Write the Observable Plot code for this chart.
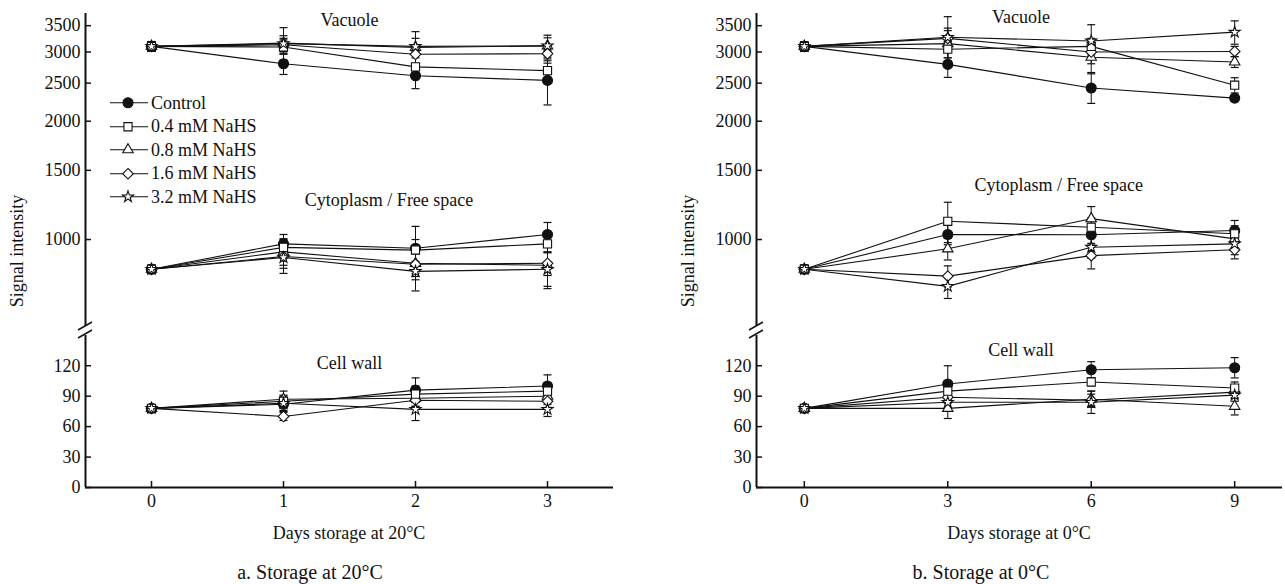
<!DOCTYPE html>
<html><head><meta charset="utf-8">
<script src="https://cdn.jsdelivr.net/npm/d3@7"></script>
<script src="https://cdn.jsdelivr.net/npm/@observablehq/plot@0.6"></script>
<style>
body{margin:0;background:#fff;}
#root{position:relative;width:1285px;height:584px;font-family:"Liberation Serif","Times New Roman",serif;color:#111;overflow:hidden;background:#fff;}
.abs{position:absolute;white-space:nowrap;line-height:1;}
svg text{font-family:"Liberation Serif","Times New Roman",serif;}
</style></head><body><div id="root"></div>
<script>
// ---------- data ----------
const seriesNames = ["Control", "0.4 mM NaHS", "0.8 mM NaHS", "1.6 mM NaHS", "3.2 mM NaHS"];
const symbolNames = ["circle", "square", "triangle2", "diamond2", "star"];
const daysA = [0, 1, 2, 3];
const daysB = [0, 3, 6, 9];
const yTicksUpper = [1000, 1500, 2000, 2500, 3000, 3500];
const yTicksLower = [0, 30, 60, 90, 120];

// Panel a (20 °C)
const vacuoleA = [[3100, 2800, 2610, 2540], [3100, 3090, 2750, 2690], [3100, 3160, 3080, 3110], [3100, 3130, 2960, 2970], [3100, 3150, 3100, 3110]];
const vacuoleAErr = [[90, 170, 190, 340], [80, 130, 150, 120], [80, 300, 300, 200], [80, 120, 150, 120], [80, 150, 150, 150]];
const cytoA = [[840, 975, 950, 1030], [840, 955, 940, 975], [840, 930, 870, 860], [840, 905, 865, 870], [840, 900, 830, 840]];
const cytoAErr = [[20, 55, 130, 75], [20, 50, 60, 50], [20, 70, 80, 100], [20, 60, 60, 60], [20, 80, 90, 90]];
const wallA = [[78, 82, 96, 100], [78, 85, 92, 95], [78, 87, 88, 90], [78, 70, 86, 85], [78, 83, 77, 77]];
const wallAErr = [[3, 6, 12, 11], [3, 5, 8, 8], [3, 8, 8, 8], [3, 4, 6, 6], [3, 8, 11, 7]];

// Panel b (0 °C)
const vacuoleB = [[3100, 2790, 2430, 2290], [3100, 3050, 3100, 2470], [3100, 3150, 2910, 2830], [3100, 3250, 3000, 3010], [3100, 3270, 3200, 3370]];
const vacuoleBErr = [[80, 205, 210, 40], [80, 150, 150, 110], [80, 250, 250, 90], [80, 200, 200, 90], [80, 420, 320, 230]];
const cytoB = [[840, 1030, 1028, 1054], [840, 1113, 1075, 1034], [840, 947, 1130, 1004], [840, 807, 910, 942], [840, 760, 956, 975]];
const cytoBErr = [[20, 60, 60, 64], [20, 131, 60, 50], [20, 60, 83, 50], [20, 50, 68, 49], [20, 52, 60, 60]];
const wallB = [[78, 102, 116, 118], [78, 95, 104, 98], [78, 78, 87, 80], [78, 89, 86, 94], [78, 84, 84, 91]];
const wallBErr = [[3, 18, 8, 10], [3, 8, 4, 6], [3, 10, 8, 8.5], [3, 6, 6, 6], [3, 8, 11, 6]];

const annotUpperA = [{text: "Vacuole", day: 1.5, value: 3610}, {text: "Cytoplasm / Free space", day: 1.8, value: 1257}];
const annotLowerA = [{text: "Cell wall", day: 1.5, value: 122}];
const annotUpperB = [{text: "Vacuole", day: 4.53, value: 3680}, {text: "Cytoplasm / Free space", day: 5.32, value: 1372}];
const annotLowerB = [{text: "Cell wall", day: 4.53, value: 135}];

// ---------- helpers ----------
const FONT = "'Liberation Serif', 'Times New Roman', serif";
const INK = "#111";
const root = document.getElementById("root");
const symbolRadius = {circle: 5, square: 4.6, triangle2: 5, diamond2: 4.8, star: 3.5};

function rowsFor(days, values, errs, part) {
  const out = [];
  values.forEach((arr, si) => arr.forEach((v, i) =>
    out.push({series: seriesNames[si], part, day: days[i], value: v, err: errs[si][i], r: symbolRadius[symbolNames[si]]})));
  return out;
}

const capSymbol = {
  draw(ctx, size) {
    const w = Math.sqrt(size / Math.PI);
    ctx.moveTo(-w, 0); ctx.lineTo(w, 0);
  }
};

function dataMarks(rows) {
  return [
    Plot.line(rows, {x: "day", y: "value", z: d => d.series + "|" + d.part, stroke: INK, strokeWidth: 1.1}),
    Plot.ruleX(rows, {x: "day", y1: d => d.value - d.err, y2: d => d.value + d.err, stroke: INK, strokeWidth: 1}),
    Plot.dot(rows, {x: "day", y: d => d.value + d.err, symbol: capSymbol, r: 4, stroke: INK, fill: "none", strokeWidth: 1.2}),
    Plot.dot(rows, {x: "day", y: d => d.value - d.err, symbol: capSymbol, r: 4, stroke: INK, fill: "none", strokeWidth: 1.2}),
    Plot.dot(rows, {x: "day", y: "value", symbol: "series", r: "r", stroke: INK, strokeWidth: 1.1,
      fill: d => d.series === seriesNames[0] ? INK : "white"})
  ];
}

function place(el, left, top) {
  el.style.position = "absolute";
  el.style.left = left + "px";
  el.style.top = top + "px";
  root.appendChild(el);
}

const commonStyle = {fontFamily: FONT, fontSize: "18px", background: "transparent", overflow: "visible", color: INK};

function panel(cfg) {
  const plotW = cfg.width - cfg.marginLeft - cfg.marginRight;
  // upper (log) part
  const upperRows = rowsFor(cfg.days, cfg.vac, cfg.vacErr, "vac").concat(rowsFor(cfg.days, cfg.cyto, cfg.cytoErr, "cyto"));
  const upper = Plot.plot({
    width: cfg.width, height: 336,
    marginTop: 13, marginBottom: 10, marginLeft: cfg.marginLeft, marginRight: cfg.marginRight,
    style: commonStyle,
    x: {domain: cfg.xDomain, axis: null},
    y: {type: "log", domain: [600.8, 3759], axis: null},
    r: {type: "identity"},
    symbol: {domain: seriesNames, range: symbolNames},
    color: {type: "identity"},
    marks: [
      Plot.ruleX([cfg.xDomain[0]], {stroke: INK, strokeWidth: 2}),
      Plot.tickY(yTicksUpper, {y: d => d, insetRight: plotW - 6, stroke: INK, strokeWidth: 1.5}),
      Plot.axisY({ticks: yTicksUpper, tickFormat: d => String(d), tickSize: 0, tickPadding: 5, fontSize: 18, fill: INK, label: null}),
      ...dataMarks(upperRows),
      Plot.text(cfg.annotUpper, {x: "day", y: "value", text: "text", fontSize: 18, fill: INK})
    ]
  });
  place(upper, cfg.left, 0);

  // lower (linear) part
  const lowerRows = rowsFor(cfg.days, cfg.wall, cfg.wallErr, "wall");
  const breakMark = (index, scales, values, dims) => {
    const g = d3.create("svg:g").attr("stroke", INK).attr("stroke-width", 1.6);
    const x0 = dims.marginLeft, y0 = dims.marginTop;
    for (const c of [y0 - 1, y0 - 9]) {
      g.append("path").attr("d", `M${x0 - 7},${c + 4}L${x0 + 7},${c - 4}`);
    }
    return g.node();
  };
  const lowerH = 264, lowerTop = 320;
  const lower = Plot.plot({
    width: cfg.width, height: lowerH,
    marginTop: 15, marginBottom: 97, marginLeft: cfg.marginLeft, marginRight: cfg.marginRight,
    style: commonStyle,
    x: {domain: cfg.xDomain, axis: null},
    y: {domain: [0, 149.8], axis: null},
    r: {type: "identity"},
    symbol: {domain: seriesNames, range: symbolNames},
    color: {type: "identity"},
    marks: [
      Plot.ruleX([cfg.xDomain[0]], {stroke: INK, strokeWidth: 2}),
      Plot.ruleY([0], {stroke: INK, strokeWidth: 2}),
      Plot.tickY(yTicksLower, {y: d => d, insetRight: plotW - 6, stroke: INK, strokeWidth: 1.5}),
      Plot.tickX(cfg.days, {x: d => d, insetTop: (lowerH - 15 - 97) - 6, stroke: INK, strokeWidth: 1.5}),
      Plot.axisY({ticks: yTicksLower, tickFormat: d => String(d), tickSize: 0, tickPadding: 5, fontSize: 18, fill: INK, label: null}),
      Plot.axisX({ticks: cfg.days, tickFormat: d => String(d), tickSize: 0, tickPadding: 7, fontSize: 18, fill: INK, label: null}),
      ...dataMarks(lowerRows),
      Plot.text(cfg.annotLower, {x: "day", y: "value", text: "text", fontSize: 18, fill: INK}),
      breakMark
    ]
  });
  place(lower, cfg.left, lowerTop);

  // texts
  const t = (txt, cx, cy, size, rot) => {
    const d = document.createElement("div");
    d.className = "abs";
    d.textContent = txt;
    d.style.fontSize = size + "px";
    d.style.transform = "translate(-50%,-50%)" + (rot ? " rotate(-90deg)" : "");
    place(d, cx, cy);
  };
  t("Signal intensity", cfg.yLabelX, 251, 18, true);
  t(cfg.xTitle, cfg.xTitleX, 533, 18, false);
  t(cfg.caption, cfg.captionX, 572, 20, false);
}

panel({
  left: 0, width: 640, marginLeft: 85, marginRight: 27, xDomain: [-0.5, 3.5], days: daysA,
  vac: vacuoleA, vacErr: vacuoleAErr, cyto: cytoA, cytoErr: cytoAErr, wall: wallA, wallErr: wallAErr,
  annotUpper: annotUpperA, annotLower: annotLowerA,
  yLabelX: 17, xTitle: "Days storage at 20°C", xTitleX: 349, caption: "a. Storage at 20°C", captionX: 310
});
panel({
  left: 640, width: 645, marginLeft: 116, marginRight: 3, xDomain: [-1, 10], days: daysB,
  vac: vacuoleB, vacErr: vacuoleBErr, cyto: cytoB, cytoErr: cytoBErr, wall: wallB, wallErr: wallBErr,
  annotUpper: annotUpperB, annotLower: annotLowerB,
  yLabelX: 688, xTitle: "Days storage at 0°C", xTitleX: 1019, caption: "b. Storage at 0°C", captionX: 981
});

// legend (panel a)
const legend = document.createElement("div");
legend.style.width = "200px";
const symMap = {circle: d3.symbolCircle, square: d3.symbolSquare, triangle2: d3.symbolTriangle2, diamond2: d3.symbolDiamond2, star: d3.symbolStar};
seriesNames.forEach((name, i) => {
  const row = document.createElement("div");
  row.style.cssText = "display:flex;align-items:center;height:23.5px;";
  const svg = d3.create("svg").attr("width", 41).attr("height", 23.5);
  svg.append("line").attr("x1", 0).attr("x2", 38).attr("y1", 11.75).attr("y2", 11.75).attr("stroke", INK).attr("stroke-width", 1.1);
  const rr = symbolRadius[symbolNames[i]];
  svg.append("path").attr("transform", "translate(18,11.75)")
    .attr("d", d3.symbol(symMap[symbolNames[i]], Math.PI * rr * rr)())
    .attr("fill", i === 0 ? INK : "white").attr("stroke", INK).attr("stroke-width", 1.1);
  row.appendChild(svg.node());
  const lab = document.createElement("span");
  lab.textContent = name;
  lab.style.cssText = "font-size:18px;line-height:1;";
  row.appendChild(lab);
  legend.appendChild(row);
});
place(legend, 110, 91);
</script>
</body></html>
